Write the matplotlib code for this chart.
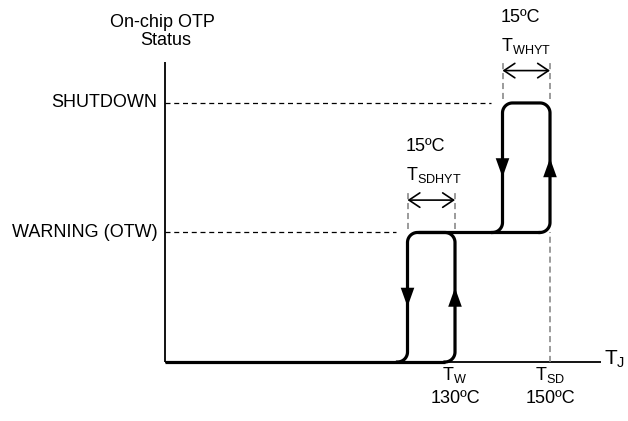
import numpy as np
import matplotlib.pyplot as plt

plt.rcParams['font.family'] = ['Liberation Sans', 'DejaVu Sans']
plt.rcParams['mathtext.fontset'] = 'custom'
plt.rcParams['mathtext.rm'] = 'Liberation Sans'

# status levels (0 = normal, 1 = warning, 2 = shutdown)
level_names = ['WARNING (OTW)', 'SHUTDOWN']
level_values = [1, 2]

# hysteresis loops, lower (warning) and upper (shutdown)
loop_low = [0, 1]
loop_high = [1, 2]
t_on = [130, 150]      # trip temperatures T_W, T_SD
t_off = [120, 140]     # release legs as drawn in the schematic
hyst_names = [r'T$_\mathrm{SDHYT}$', r'T$_\mathrm{WHYT}$']
hyst_values = ['15ºC', '15ºC']
tick_names = [r'T$_\mathrm{W}$', r'T$_\mathrm{SD}$']
tick_values = ['130ºC', '150ºC']

x_axis_start = 69
x_axis_end = 160.7
y_axis_top = 2.317

fig = plt.figure(figsize=(6.28, 4.21), dpi=100)
ax = fig.add_axes([0, 0, 1, 1])
ax.set_xlim(34.21, 166.42)
ax.set_ylim(-0.4556, 2.795)
ax.axis('off')

# size of one pixel in data units
sx = (166.42 - 34.21) / 628
sy = (2.795 + 0.4556) / 421
rx, ry = 10 * sx, 10 * sy

def arc(cx, cy, a0, a1):
    a = np.radians(np.linspace(a0, a1, 20))
    return list(cx + rx * np.cos(a)), list(cy + ry * np.sin(a))

# axes
ax.plot([x_axis_start, x_axis_start], [0, y_axis_top], color='black', lw=1.3, solid_capstyle='butt')
ax.plot([x_axis_start, x_axis_end], [0, 0], color='black', lw=1.3, solid_capstyle='butt')

# dashed level guides
for name, lv, toff in zip(level_names, level_values, t_off):
    ax.plot([x_axis_start, toff - 2.5], [lv, lv], color='black', lw=0.9, ls=(0, (4, 3)))
    ax.text(x_axis_start - 8 * sx, lv, name, ha='right', va='center', fontsize=13)

# flat parts of the status curve
ax.plot([x_axis_start, t_on[0] - rx], [0, 0], color='black', lw=2.3, solid_capstyle='butt')
ax.plot([t_off[0] + rx, t_on[1] - rx], [1, 1], color='black', lw=2.3, solid_capstyle='butt')

lw = 2.3
for lo, hi, ton, toff, hn, hv in zip(loop_low, loop_high, t_on, t_off, hyst_names, hyst_values):
    xs, ys = [], []
    for cx, cy, a0, a1 in [(ton - rx, lo + ry, -90, 0), (ton - rx, hi - ry, 0, 90),
                           (toff + rx, hi - ry, 90, 180), (toff - rx, lo + ry, 0, -90)]:
        px, py = arc(cx, cy, a0, a1)
        xs += px
        ys += py
    ax.plot(xs, ys, color='black', lw=lw, solid_joinstyle='round')

    # direction arrows
    mid = lo + 0.5
    half_len = 9.5 * sy
    hw = 6.8 * sx
    ax.fill([toff - hw, toff + hw, toff], [mid + half_len, mid + half_len, mid - half_len],
            color='black', lw=0)
    ax.fill([ton - hw, ton + hw, ton], [mid - half_len, mid - half_len, mid + half_len],
            color='black', lw=0)

    # hysteresis width marker
    for t in (toff, ton):
        ax.plot([t, t], [hi + 0.027, hi + 0.33], color='#808080', lw=1.1, ls=(0, (4, 2.5)))
    ax.annotate('', xy=(ton, hi + 0.25), xytext=(toff, hi + 0.25),
                arrowprops=dict(arrowstyle='<->,head_length=0.6,head_width=0.4',
                                color='black', lw=1.2, shrinkA=0, shrinkB=0, mutation_scale=13))
    ax.text(toff - 0.3, hi + 0.66, hv, ha='left', va='center', fontsize=13)
    ax.text(toff - 0.3, hi + 0.44, hn, ha='left', va='center', fontsize=13)

# shutdown temperature guide
ax.plot([t_on[1], t_on[1]], [0, 1], color='#808080', lw=1.1, ls=(0, (4, 2.5)))

for t, n, v in zip(t_on, tick_names, tick_values):
    ax.text(t, -0.10, n, ha='center', va='center', fontsize=13)
    ax.text(t, -0.28, v, ha='center', va='center', fontsize=13)

ax.text(68.4, 2.622, 'On-chip OTP', ha='center', va='center', fontsize=13)
ax.text(69.15, 2.479, 'Status', ha='center', va='center', fontsize=13)
ax.text(161.4, 0.02, r'T$_\mathrm{J}$', ha='left', va='center', fontsize=15)

fig.savefig('out.png', dpi=100)
